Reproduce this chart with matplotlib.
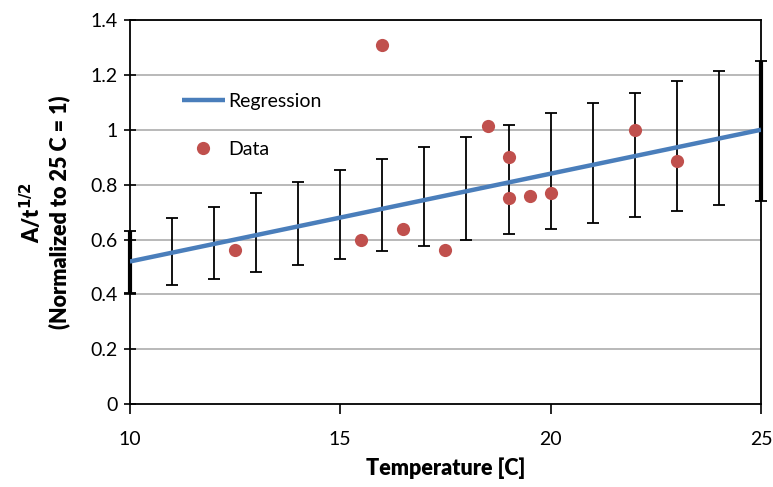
import matplotlib
matplotlib.use("Agg")
import matplotlib.pyplot as plt
import numpy as np
from matplotlib.ticker import FuncFormatter

plt.rcParams["font.family"] = ["Lato", "DejaVu Sans"]

# Regression line (endpoints)
reg_x = [10, 25]
reg_y = [0.52, 1.0]

# Error bar band (low / high) at each temperature
err_x = [10, 11, 12, 13, 14, 15, 16, 17, 18, 19, 20, 21, 22, 23, 24, 25]
err_low = [0.406, 0.434, 0.456, 0.482, 0.509, 0.530, 0.557, 0.577,
           0.598, 0.620, 0.640, 0.662, 0.683, 0.705, 0.725, 0.741]
err_high = [0.631, 0.677, 0.719, 0.768, 0.810, 0.853, 0.894, 0.938,
            0.975, 1.017, 1.060, 1.096, 1.134, 1.178, 1.214, 1.250]

# Measured data
data_x = [12.5, 15.5, 16, 16.5, 17.5, 18.5, 19, 19, 19.5, 20, 22, 23]
data_y = [0.561, 0.598, 1.309, 0.637, 0.561, 1.013, 0.902, 0.752, 0.758, 0.768, 1.0, 0.885]

C_LINE = "#4a7ebb"
C_DOT = "#c0504d"

fig = plt.figure(figsize=(7.73, 4.87), dpi=100)
ax = fig.add_axes([0.168, 0.170, 0.8165, 0.789])

for y in np.arange(0.2, 1.41, 0.2):
    ax.axhline(y, color="#a6a6a6", lw=1.1, zorder=0)

lo = np.array(err_low)
hi = np.array(err_high)
mid = (lo + hi) / 2
eb = ax.errorbar(err_x, mid, yerr=[mid - lo, hi - mid], fmt="none", ecolor="black",
                 elinewidth=1.3, capsize=4.5, capthick=1.3, zorder=2.5)
for art in eb.lines[1] + eb.lines[2]:
    art.set_clip_on(False)
# thicker bars where they sit on the frame
ax.vlines([err_x[0], err_x[-1]], [lo[0], lo[-1]], [hi[0], hi[-1]], color="black",
          lw=3, zorder=2.6, clip_on=False)

ax.plot(reg_x, reg_y, color=C_LINE, lw=3.2, label="Regression", zorder=3,
        solid_capstyle="butt")
ax.plot(data_x, data_y, "o", color=C_DOT, ms=9.5, mec="none", label="Data", zorder=4)

ax.set_xlim(10, 25)
ax.set_ylim(0, 1.4)
ax.set_xticks([10, 15, 20, 25])
ax.set_yticks(np.arange(0, 1.41, 0.2))
ax.yaxis.set_major_formatter(FuncFormatter(lambda v, p: f"{v:.1f}".rstrip("0").rstrip(".") if v else "0"))

ax.tick_params(axis="y", direction="inout", length=8, width=1.2, labelsize=14, pad=5)
ax.tick_params(axis="x", direction="out", length=7, width=1.2, labelsize=14, pad=12)
for s in ax.spines.values():
    s.set_linewidth(1.3)
    s.set_color("black")

ax.set_xlabel("Temperature [C]", fontsize=15.5, fontweight="heavy", labelpad=7)
ax.set_ylabel("A/t$^{\\mathbf{1/2}}$\n(Normalized to 25 C = 1)", fontsize=15.5,
              fontweight="heavy", labelpad=14, linespacing=1.25)

ax.legend(loc="upper left", bbox_to_anchor=(0.055, 0.855), frameon=False,
          fontsize=14, handlelength=2.2, handletextpad=0.2, labelspacing=1.6,
          numpoints=1)

fig.savefig("out.png", dpi=100, facecolor="white")
